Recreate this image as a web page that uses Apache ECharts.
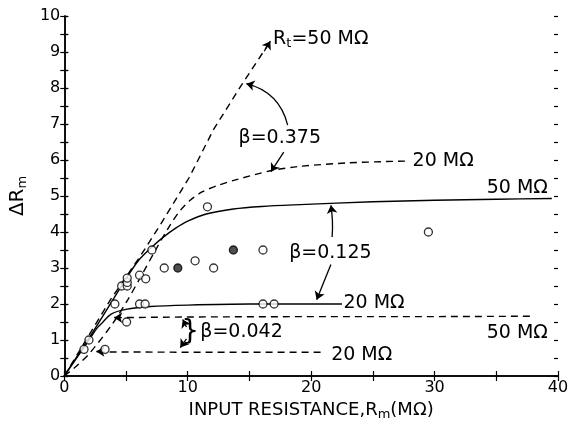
<!DOCTYPE html>
<html>
<head>
<meta charset="utf-8">
<script src="https://cdn.jsdelivr.net/npm/echarts@6/dist/echarts.min.js"></script>
<style>
  html, body { margin: 0; padding: 0; background: #fff; }
  #my_chart { width: 572px; height: 426px; }
</style>
</head>
<body>
<div id="my_chart"></div>
<script>
// R_t = 50 MΩ (dashed, arrow at the end)
var rtX = [0, 3.8, 6.2, 7.6, 10.1, 12.1, 14.3, 16.6];
var rtY = [0, 2.15, 3.35, 4.1, 5.5, 6.85, 8.05, 9.25];
// beta = 0.375, 20 MΩ (dashed)
var b375X = [0, 1, 2.05, 3.93, 5.13, 6.35, 7.4, 8.5, 9.4, 10.2, 11.2, 12.5, 13.8, 16.7, 19, 23, 27.6];
var b375Y = [0, 0.28, 0.63, 1.46, 2.11, 2.85, 3.5, 4.15, 4.6, 4.88, 5.12, 5.3, 5.44, 5.7, 5.82, 5.92, 5.97];
// beta = 0.125, 50 MΩ (solid)
var b125aX = [0, 2, 4, 5, 6, 7, 8, 9, 10, 11.5, 13.7, 16, 19.1, 25, 30, 35, 39.5];
var b125aY = [0, 1.05, 2.15, 2.7, 3.2, 3.55, 3.85, 4.1, 4.3, 4.5, 4.64, 4.71, 4.76, 4.84, 4.88, 4.91, 4.93];
// beta = 0.125, 20 MΩ (solid)
var b125bX = [0, 1, 2, 2.7, 3, 3.8, 5, 7, 10, 15, 22.5];
var b125bY = [0, 0.5, 1, 1.35, 1.45, 1.72, 1.85, 1.93, 1.97, 2, 2];
// beta = 0.042, 50 MΩ and 20 MΩ (dashed)
var b042aX = [4.1, 10, 20, 30, 37.9];
var b042aY = [1.62, 1.64, 1.65, 1.65, 1.66];
var b042bX = [2.7, 10, 20.9];
var b042bY = [0.67, 0.66, 0.66];
// measured points
var openPts = [[1.6, 0.74], [2.0, 1.0], [3.3, 0.74], [4.1, 2.0], [4.65, 2.5], [5.05, 1.5],
  [5.1, 2.5], [5.1, 2.6], [5.1, 2.72], [6.1, 2.0], [6.55, 2.0], [6.1, 2.8], [6.6, 2.7],
  [7.1, 3.5], [8.1, 3.0], [10.6, 3.2], [12.1, 3.0], [11.6, 4.7], [16.1, 3.5], [16.1, 2.0],
  [17.0, 2.0], [29.5, 4.0]];
var filledPts = [[9.2, 3.0], [13.7, 3.5]];

function pairs(xs, ys) {
    return xs.map(function (x, i) { return [x, ys[i]]; });
}

var FONT = 'DejaVu Sans';
var sub = { fontSize: 13, fontFamily: FONT, color: '#000', padding: [9, 0, 0, 0] };

//文字标注
function note(x, y, text, side, size) {
    return {
        value: [x, y],
        label: {
            show: true, formatter: text, position: side || 'right', distance: 0,
            fontFamily: FONT, fontSize: size || 19, color: '#000', opacity: 1,
            rich: { s: sub }
        }
    };
}
//箭头
function arrow(a, b, curve) {
    return { coords: [a, b], lineStyle: { curveness: curve || 0 } };
}

var lineBase = { type: 'line', symbol: 'none', silent: true, z: 3 };
function curve(name, data, dashed, smooth) {
    return Object.assign({}, lineBase, {
        name: name, data: data, smooth: smooth,
        lineStyle: { color: '#000', width: 1.4, type: dashed ? [7, 5] : 'solid' }
    });
}

var myChart = echarts.init(document.getElementById('my_chart'));

var yTicksCross = {
    show: true, inside: false, length: 4, lineStyle: { color: '#000', width: 1.2 }
};

var option = {
    animation: false,
    backgroundColor: '#fff',
    grid: { left: 63, right: 14, top: 16, bottom: 50 },
    xAxis: [{
        type: 'value', min: 0, max: 40, interval: 5, position: 'bottom',
        axisLine: { lineStyle: { color: '#000', width: 1.5 } },
        axisTick: { inside: true, length: 5, lineStyle: { color: '#000', width: 1.2 } },
        splitLine: { show: false },
        axisLabel: {
            color: '#000', fontSize: 16, fontFamily: FONT, margin: 4,
            formatter: function (v) { return v % 10 === 0 ? String(v) : ''; }
        },
        name: 'INPUT RESISTANCE,R{s|m}(MΩ)', nameLocation: 'middle', nameGap: 22,
        nameTextStyle: { color: '#000', fontSize: 18, fontFamily: FONT, rich: { s: sub } }
    }, {
        type: 'value', min: 0, max: 40, interval: 5, position: 'top',
        axisLine: { lineStyle: { color: '#000', width: 1.5 } },
        axisTick: { inside: true, length: 5, lineStyle: { color: '#000', width: 1.2 } },
        splitLine: { show: false }, axisLabel: { show: false }
    }],
    yAxis: [{
        type: 'value', min: 0, max: 10, interval: 0.5, position: 'left',
        axisLine: { show: true, lineStyle: { color: '#000', width: 1.5 } },
        axisTick: yTicksCross,
        splitLine: { show: false },
        axisLabel: {
            color: '#000', fontSize: 16, fontFamily: FONT, margin: 4,
            formatter: function (v) { return v % 1 === 0 ? String(v) : ''; }
        },
        name: 'ΔR{s|m}', nameLocation: 'middle', nameGap: 30, nameRotate: 90,
        nameTextStyle: { color: '#000', fontSize: 20, fontFamily: FONT, rich: { s: sub } }
    }, {
        type: 'value', min: 0, max: 10, interval: 0.5, position: 'right',
        axisLine: { show: true, lineStyle: { color: '#000', width: 1.5 } },
        axisTick: yTicksCross, splitLine: { show: false }, axisLabel: { show: false }
    }, {
        type: 'value', min: 0, max: 10, interval: 0.5, position: 'left',
        axisLine: { show: false },
        axisTick: { show: true, inside: true, length: 4, lineStyle: { color: '#000', width: 1.2 } },
        splitLine: { show: false }, axisLabel: { show: false }
    }, {
        type: 'value', min: 0, max: 10, interval: 0.5, position: 'right',
        axisLine: { show: false },
        axisTick: { show: true, inside: true, length: 4, lineStyle: { color: '#000', width: 1.2 } },
        splitLine: { show: false }, axisLabel: { show: false }
    }],
    series: [
        curve('Rt50', pairs(rtX, rtY), true, false),
        curve('b375', pairs(b375X, b375Y), true, 0.3),
        curve('b125a', pairs(b125aX, b125aY), false, 0.3),
        curve('b125b', pairs(b125bX, b125bY), false, 0.3),
        curve('b042a', pairs(b042aX, b042aY), true, false),
        curve('b042b', pairs(b042bX, b042bY), true, false),
        {
            type: 'lines', coordinateSystem: 'cartesian2d', silent: true, z: 4,
            symbol: ['none', 'arrow'], symbolSize: 8,
            lineStyle: { color: '#000', width: 1.3, opacity: 1 },
            data: [
                arrow([16.2, 9.02], [16.7, 9.3]),
                arrow([18.1, 6.97], [14.75, 8.12], -0.3),
                arrow([17.78, 6.22], [16.75, 5.68]),
                arrow([21.7, 3.86], [21.6, 4.74], -0.06),
                arrow([21.6, 3.1], [20.45, 2.12]),
                arrow([9.9, 1.36], [9.6, 1.57]),
                arrow([9.9, 1.03], [9.4, 0.79]),
                arrow([4.5, 1.62], [4.05, 1.62]),
                arrow([3.1, 0.68], [2.6, 0.68])
            ]
        },
        {
            type: 'scatter', data: openPts, symbol: 'circle', symbolSize: 8, z: 5,
            itemStyle: { color: '#fff', borderColor: '#000', borderWidth: 1.3 }
        },
        {
            type: 'scatter', data: filledPts, symbol: 'circle', symbolSize: 8, z: 5,
            itemStyle: { color: '#222', borderColor: '#000', borderWidth: 1.3 }
        },
        {
            type: 'scatter', silent: true, symbolSize: 0.5, z: 6,
            itemStyle: { color: '#fff', opacity: 1 },
            data: [
                note(16.9, 9.36, 'R{s|t}=50 MΩ'),
                note(14.1, 6.61, 'β=0.375'),
                note(28.2, 5.97, '20 MΩ'),
                note(39.2, 5.22, '50 MΩ', 'left'),
                note(18.2, 3.42, 'β=0.125'),
                note(22.6, 2.03, '20 MΩ'),
                note(39.2, 1.19, '50 MΩ', 'left'),
                note(11.0, 1.22, 'β=0.042'),
                note(21.6, 0.58, '20 MΩ'),
                note(10.2, 1.2, '}', 'inside', 28)
            ]
        }
    ]
};
myChart.setOption(option);
</script>
</body>
</html>
